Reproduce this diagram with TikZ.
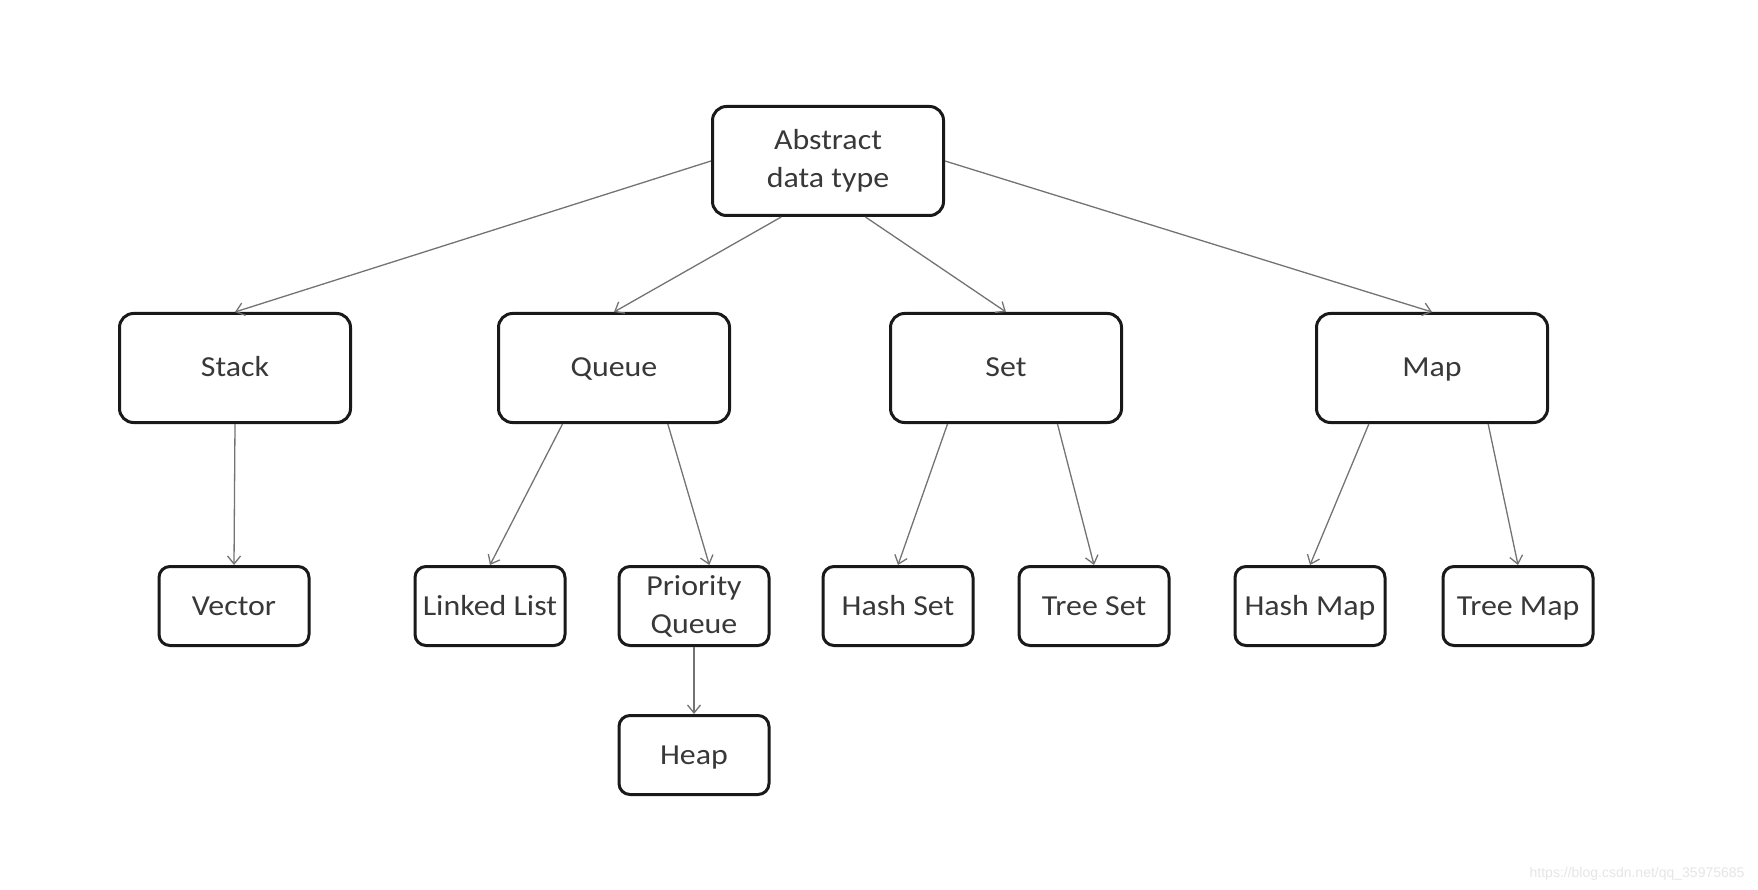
\documentclass[tikz,border=0pt]{standalone}
\usepackage{fontspec}
\setmainfont{Carlito}[FakeStretch=1.1]
\newfontfamily\urlfont{Liberation Sans}
\usetikzlibrary{arrows.meta, calc}
\newcommand{\br}[3]{% branch arrow, leaves the parent's bottom edge at a fraction
  \draw [link] ($(#1.south west)!#3!(#1.south east)$) -- (#2);
  }

\begin{document}
\begin{tikzpicture}[x=1pt, y=-1pt,
  box/.style={
    % The shape:
    rectangle,
    rounded corners=14pt,
    % The border:
    line width=3pt,
    draw=black!90,
    % Font
    font=\fontsize{29}{38}\selectfont,
    text=black!78,
    align=center,
    inner sep=0pt
  },
  big/.style={box, minimum width=231pt, minimum height=109pt},
  small/.style={box, rounded corners=11pt, minimum width=150pt, minimum height=79pt},
  oneline/.style={text height=22pt, text depth=4pt},
  link/.style={-{Straight Barb[length=8pt, width=13pt]}, line width=1.3pt, draw=black!55},
  ]
  \useasboundingbox (0,0) rectangle (1758,890);

  \node (adt) [big] at (828,161) {Abstract\\data type};

  % second row
  \foreach \n/\x/\t in {stack/235/Stack, queue/614/Queue, set/1006/Set, map/1432/Map}
  {
    \node (\n) [big, oneline] at (\x, 368) {\t};
  }

  % third row
  \foreach \n/\x/\t in {vector/234/Vector, llist/490/Linked List,
    hset/898/Hash Set, tset/1094/Tree Set, hmap/1310/Hash Map, tmap/1518/Tree Map}
  {
    \node (\n) [small, oneline] at (\x, 606) {\t};
  }
  \node (pqueue) [small] at (694, 606) {Priority\\Queue};
  \node (heap) [small, oneline] at (694, 755) {Heap};

  % arrows from the top box
  \draw [link] (adt.west) -- (stack.north);
  \draw [link] (adt.east) -- (map.north);
  \br{adt}{queue.north}{0.30}
  \br{adt}{set.north}{0.66}

  % arrows to the leaves
  \draw [link] (stack.south) -- (vector.north);
  \br{queue}{llist.north}{0.28}
  \br{queue}{$(pqueue.north west)!0.6!(pqueue.north east)$}{0.73}
  \br{set}{hset.north}{0.25}
  \br{set}{tset.north}{0.72}
  \br{map}{hmap.north}{0.23}
  \br{map}{tmap.north}{0.74}
  \draw [link] (pqueue.south) -- (heap.north);

  \node (mark) [anchor=base east, font=\urlfont\fontsize{14}{14}\selectfont, text=black!10] at (1748,877) {https://blog.csdn.net/qq\_35975685};

\end{tikzpicture}
\end{document}
